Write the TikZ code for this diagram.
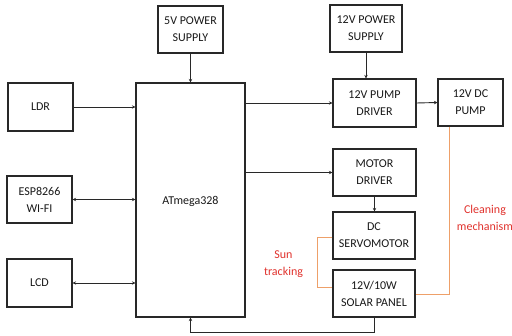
\documentclass[tikz,border=0pt]{standalone}
\usepackage{fontspec}
\setmainfont{Carlito}
\usetikzlibrary{arrows.meta,calc}
\definecolor{lnc}{RGB}{40,40,40}
\definecolor{orl}{RGB}{238,160,105}
\definecolor{redt}{RGB}{225,50,45}
\begin{document}
\begin{tikzpicture}[x=1pt,y=-1pt,
  box/.style={draw=lnc,line width=1.1pt,fill=white,align=center,inner sep=0pt,
    font=\fontsize{12}{17}\selectfont,text=black!90},
  con/.style={draw=lnc,line width=0.9pt,-{Stealth[length=3.5pt,width=3.5pt]}},
  bicon/.style={draw=lnc,line width=0.9pt,{Stealth[length=3.5pt,width=3.5pt]}-{Stealth[length=3.5pt,width=3.5pt]}},
  orline/.style={draw=orl,line width=1pt},
  redlbl/.style={text=redt,align=center,font=\fontsize{12}{17}\selectfont}]
\useasboundingbox[fill=white] (0,0) rectangle (512,336);
\node[box,minimum width=65pt,minimum height=47pt] (ps5) at (190.5,29.5) {5V POWER\\SUPPLY};
\node[box,minimum width=109pt,minimum height=234pt] (atm) at (190.5,200) {};
\node[font=\fontsize{12}{17}\selectfont,text=black!90] (atmt) at (190.5,201) {ATmega328};
\node[box,minimum width=65pt,minimum height=48pt] (ldr) at (40.5,107) {LDR};
\node[box,minimum width=65pt,minimum height=47pt] (esp) at (39.5,199.5) {ESP8266\\WI-FI};
\node[box,minimum width=65pt,minimum height=48pt] (lcd) at (39.5,283) {LCD};
\node[box,minimum width=72pt,minimum height=47pt] (ps12) at (366,28.5) {12V POWER\\SUPPLY};
\node[box,minimum width=83pt,minimum height=48pt] (pdrv) at (374.5,103) {12V PUMP\\DRIVER};
\node[box,minimum width=65pt,minimum height=47pt] (pump) at (470.5,102.5) {12V DC\\PUMP};
\node[box,minimum width=83pt,minimum height=47pt] (mdrv) at (374.5,172.5) {MOTOR\\DRIVER};
\node[box,minimum width=82pt,minimum height=47pt] (servo) at (374,235.5) {DC\\SERVOMOTOR};
\node[box,minimum width=82pt,minimum height=47pt] (solar) at (374,293.5) {12V/10W\\SOLAR PANEL};
\node[redlbl] (sun) at (283.5,264) {Sun\\tracking};
\node[redlbl] (clean) at (485,218) {Cleaning\\mechanism};
% connectors
\draw[con] (ps5.south) -- (atm.north);
\draw[con] (ldr.east) -- (ldr.east -| atm.west);
\draw[bicon] (esp.east) -- (esp.east -| atm.west);
\draw[bicon] (lcd.east) -- (lcd.east -| atm.west);
\draw[con] (pdrv.west -| atm.east) -- (pdrv.west);
\draw[con] (ps12.south) -- (ps12.south |- pdrv.north);
\draw[con] (pdrv.east) -- (pump.west);
\draw[con] (atm.east |- mdrv.west) -- (mdrv.west);
\draw[con] (mdrv.south) -- (mdrv.south |- servo.north);
\coordinate (fb) at (374,332);
\draw[con] (solar.south) -- (fb) -- (fb -| atm.south) -- (atm.south);
\coordinate (cl) at (449,295);
\draw[orline] (pump.south -| cl) -- (cl) -- (cl -| solar.east);
\coordinate (st1) at (317,238);
\coordinate (st2) at (317,288);
\draw[orline] (servo.west |- st1) -- (st1) -- (st2) -- (st2 -| solar.west);
\end{tikzpicture}
\end{document}
